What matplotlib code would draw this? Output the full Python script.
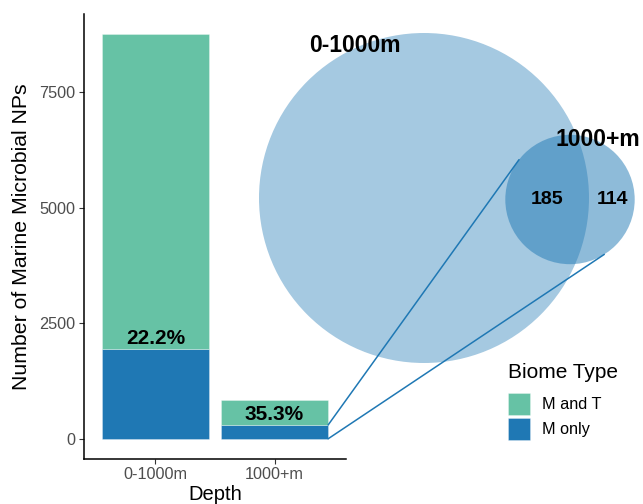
import numpy as np
import matplotlib
matplotlib.use("Agg")
import matplotlib.pyplot as plt
from matplotlib.patches import Circle, Rectangle, ConnectionPatch

plt.rcParams['font.family'] = ['Liberation Sans', 'DejaVu Sans']

# Counts of marine microbial natural products by depth
depths = ["0-1000m", "1000+m"]
m_only = [1945, 299]      # found only in marine biomes
m_and_t = [6815, 548]     # found in marine and terrestrial biomes
biome_types = ["M and T", "M only"]

# Overlap of the marine-only sets between depth zones
venn_shared = 185
venn_deep_only = 114

TEAL = "#66C2A5"
BLUE = "#1F78B4"

W, H = 643, 504
fig = plt.figure(figsize=(W / 100, H / 100), dpi=100)

# ---- stacked bar chart ----
ax = fig.add_axes([84 / W, (H - 459) / H, (346 - 84) / W, (459 - 14) / H])
x = np.arange(1, len(depths) + 1)
totals = np.array(m_only) + np.array(m_and_t)
edge = (1, 1, 1, 0.35)
ax.bar(x, m_only, width=0.9, color=BLUE, edgecolor=edge, linewidth=0.6)
ax.bar(x, m_and_t, bottom=m_only, width=0.9, color=TEAL, edgecolor=edge, linewidth=0.6)

for xi, mo, tot in zip(x, m_only, totals):
    ax.text(xi, mo + 220, f"{100 * mo / tot:.1f}%", ha="center", va="center",
            fontsize=15, fontweight="bold", color="black")

ymax = totals.max()
ax.set_xlim(0.4, 2.6)
ax.set_ylim(-0.05 * ymax, 1.05 * ymax)
ax.set_xticks(x)
ax.set_xticklabels(depths)
ax.set_yticks([0, 2500, 5000, 7500])
for s in ["top", "right"]:
    ax.spines[s].set_visible(False)
for s in ["left", "bottom"]:
    ax.spines[s].set_linewidth(1.1)
    ax.spines[s].set_color("black")
ax.tick_params(axis="both", color="#333333", labelcolor="#4D4D4D",
               labelsize=11.7, length=3.6, width=0.8, pad=2.5)
ax.set_xlabel("Depth", fontsize=14.5, color="black", labelpad=1.5)
ax.set_ylabel("Number of Marine Microbial NPs", fontsize=15.3, color="black", labelpad=6)

# ---- Venn diagram overlay (figure pixel coordinates) ----
ov = fig.add_axes([0, 0, 1, 1])
ov.set_xlim(0, W)
ov.set_ylim(H, 0)
ov.axis("off")
ov.patch.set_alpha(0)

scale = 165 / np.sqrt(m_only[0])
r_big = scale * np.sqrt(m_only[0])
r_small = scale * np.sqrt(venn_shared + venn_deep_only)
c_big = (424, 198)
c_small = (570, 199.5)

ov.add_patch(Circle(c_big, r_big, facecolor=BLUE, alpha=0.4, edgecolor="none"))
ov.add_patch(Circle(c_small, r_small, facecolor=BLUE, alpha=0.5, edgecolor="none"))

ov.text(355, 46, depths[0], ha="center", va="center", fontsize=16.5, fontweight="bold")
ov.text(598, 139, depths[1], ha="center", va="center", fontsize=16.5, fontweight="bold")
ov.text(547, 200, str(venn_shared), ha="center", va="center", fontsize=14, fontweight="bold")
ov.text(612, 200, str(venn_deep_only), ha="center", va="center", fontsize=14, fontweight="bold")

# zoom lines from the deep bar's marine-only segment to the small circle
for y_bar, ang in [(m_only[1], 142), (0, -58)]:
    a = np.deg2rad(ang)
    pt = (c_small[0] + r_small * np.cos(a), c_small[1] - r_small * np.sin(a))
    con = ConnectionPatch(xyA=(x[1] + 0.45, y_bar), coordsA=ax.transData,
                          xyB=pt, coordsB=ov.transData,
                          color=BLUE, linewidth=1.1)
    ov.add_artist(con)

# ---- legend ----
ov.text(508, 372, "Biome Type", ha="left", va="center", fontsize=15)
for i, (lab, col) in enumerate(zip(biome_types, [TEAL, BLUE])):
    y0 = 393 + i * 25
    ov.add_patch(Rectangle((508, y0), 22, 22, facecolor=col, edgecolor=edge, linewidth=0.6))
    ov.text(542, y0 + 11.5, lab, ha="left", va="center", fontsize=11.7)

fig.savefig("out.png", dpi=100)
